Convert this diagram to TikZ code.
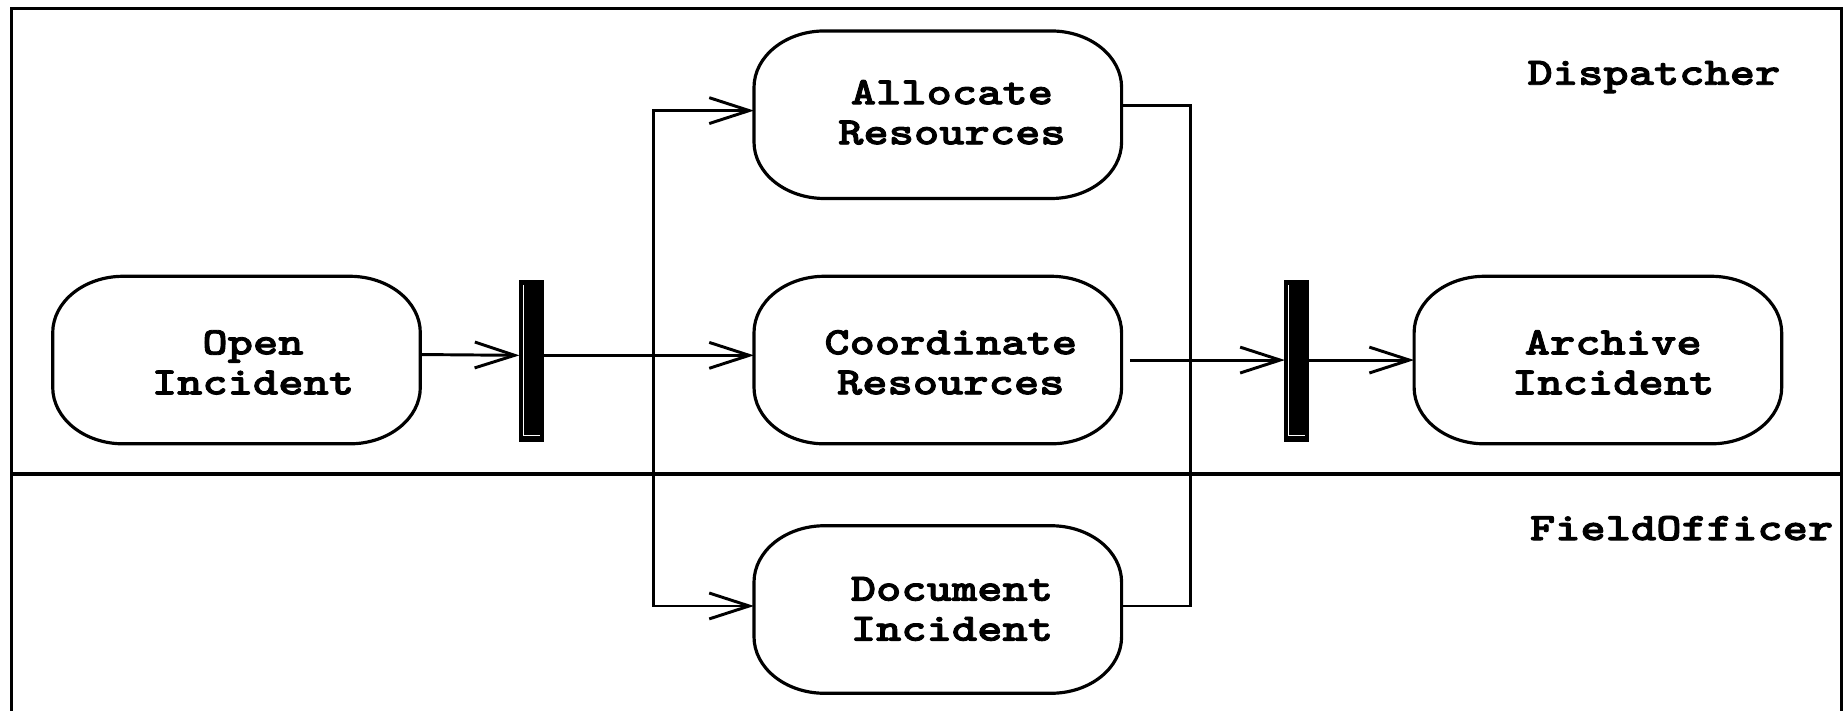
\documentclass[tikz,border=0pt]{standalone}
\usepackage{fontspec}
\newfontfamily\courfont[FakeStretch=1.24,FakeBold=2.2]{lmmonolt10-bold.otf}
\usetikzlibrary{arrows.meta}
\begin{document}
\begin{tikzpicture}[x=1pt,y=1pt,
  frame/.style={line width=2.6pt},
  lanediv/.style={line width=3.4pt},
  actbox/.style={rectangle, minimum width=312pt, minimum height=142pt, inner sep=0pt, draw=none},
  boxline/.style={line width=2.7pt},
  acttext/.style={font=\courfont\fontsize{33}{34}\selectfont, align=center, inner sep=0pt},
  lanelabel/.style={font=\courfont\fontsize{33}{34}\selectfont, anchor=base west, inner sep=0pt},
  flow/.style={line width=2.5pt, -{Straight Barb[length=34pt,width=22pt,line width=2.5pt]}},
  plainline/.style={line width=2.5pt},
  syncbar/.style={rectangle, fill=black, draw=black, line width=1pt, inner sep=0pt, outer sep=0pt, minimum width=20pt, minimum height=137pt},
  barglint/.style={draw=white, line width=0.9pt}]
\useasboundingbox (0,0) rectangle (1568,-604);
% swimlane frame
\draw[frame] (10,-604) -- (10,-7) -- (1565,-7) -- (1565,-604);
\draw[lanediv] (10,-403) -- (1565,-403);
\node[lanelabel] (dl) at (1298,-72) {Dispatcher};
\node[lanelabel] (fl) at (1300,-459) {FieldOfficer};
% activity nodes
\node[actbox] (oi) at (201,-306) {};
\node[actbox] (ar) at (797,-97.5) {};
\node[actbox] (cr) at (797,-306) {};
\node[actbox] (di) at (797,-518) {};
\node[actbox] (ai) at (1358,-306) {};
\foreach \n in {oi,ar,cr,di,ai}{
  \draw[boxline] ([xshift=60pt]\n.north west) -- ([xshift=-60pt]\n.north east)
    arc[start angle=90,end angle=0,x radius=60pt,y radius=48pt]
    -- ([yshift=48pt]\n.south east)
    arc[start angle=0,end angle=-90,x radius=60pt,y radius=48pt]
    -- ([xshift=60pt]\n.south west)
    arc[start angle=270,end angle=180,x radius=60pt,y radius=48pt]
    -- ([yshift=-48pt]\n.north west)
    arc[start angle=180,end angle=90,x radius=60pt,y radius=48pt] -- cycle;
}
\node[acttext] (oit) at ([xshift=14pt,yshift=-2pt]oi.center) {Open\\Incident};
\node[acttext] (art) at ([xshift=12pt,yshift=2pt]ar.center) {Allocate\\Resources};
\node[acttext] (crt) at ([xshift=11pt,yshift=-2pt]cr.center) {Coordinate\\Resources};
\node[acttext] (dit) at ([xshift=12pt,yshift=0.5pt]di.center) {Document\\Incident};
\node[acttext] (ait) at ([xshift=13pt,yshift=-2pt]ai.center) {Archive\\Incident};
% synchronisation bars
\node[syncbar] (f1) at (451.5,-306.7) {};
\node[syncbar] (f2) at (1102,-306.7) {};
\foreach \b in {f1,f2}{
  \draw[barglint] ([xshift=3.4pt,yshift=-4pt]\b.north west) |- ([xshift=-2.7pt,yshift=5pt]\b.south east);
}
% flows
\coordinate (sp) at (555,-302);
\coordinate (mj) at (1012,-306);
\draw[flow] ([yshift=4.7pt]oi.east) -- ([yshift=4.7pt]f1.west);
\draw[flow] ([yshift=4.7pt]f1.east) -- ([yshift=4pt]cr.west);
\draw[flow] (sp) |- ([yshift=3.5pt]ar.west);
\draw[flow] (sp) |- ([yshift=3pt]di.west);
\draw[plainline] ([yshift=7.5pt]ar.east) -| (mj) |- ([yshift=3pt]di.east);
\draw[flow] ([xshift=7pt]cr.east) -- ([yshift=0.7pt]f2.west);
\draw[flow] ([yshift=0.7pt]f2.east) -- (ai.west);
\end{tikzpicture}
\end{document}
